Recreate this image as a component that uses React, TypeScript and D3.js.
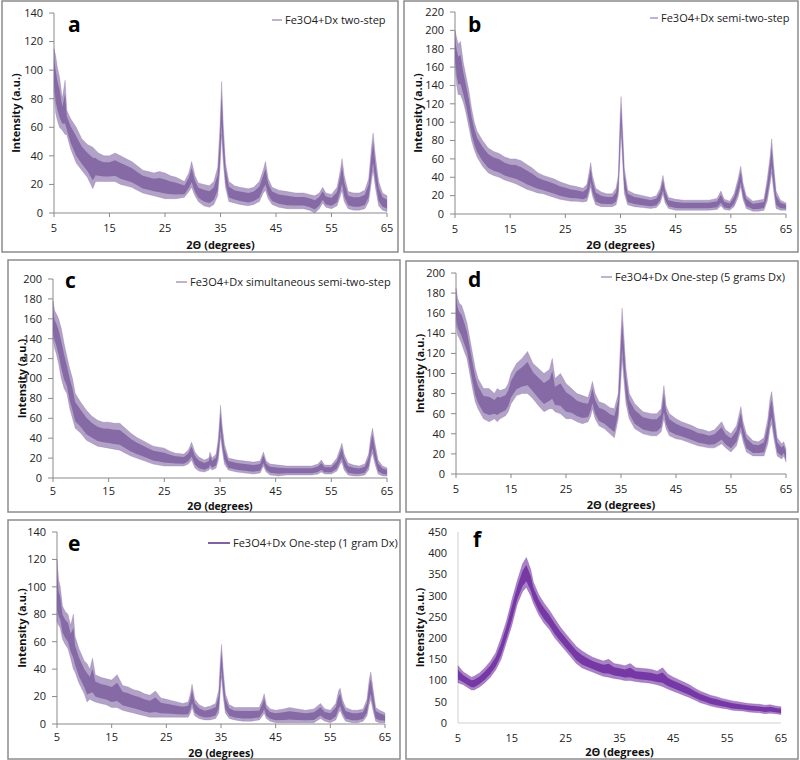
import React from "react";
import * as d3 from "d3";

type Pt = [number, number, number]; // [2θ, low, high]

const xTicks = [5, 15, 25, 35, 45, 55, 65];
const yTicksA = [0, 20, 40, 60, 80, 100, 120, 140];
const yTicksB = [0, 20, 40, 60, 80, 100, 120, 140, 160, 180, 200, 220];
const yTicksC = [0, 20, 40, 60, 80, 100, 120, 140, 160, 180, 200];
const yTicksD = [0, 20, 40, 60, 80, 100, 120, 140, 160, 180, 200];
const yTicksE = [0, 20, 40, 60, 80, 100, 120, 140];
const yTicksF = [0, 50, 100, 150, 200, 250, 300, 350, 400, 450];

const panelLetters = ["a", "b", "c", "d", "e", "f"];
const legendNames = [
  "Fe3O4+Dx two-step",
  "Fe3O4+Dx semi-two-step",
  "Fe3O4+Dx simultaneous semi-two-step",
  "Fe3O4+Dx One-step (5 grams Dx)",
  "Fe3O4+Dx One-step (1 gram Dx)",
  "",
];

const twoStep: Pt[] = [
  [5, 85, 115], [5.3, 70, 110], [5.6, 65, 102], [6, 60, 95], [6.5, 58, 80], [7, 55, 93], [7.3, 55, 72],
  [8, 45, 66], [9, 35, 60], [10, 30, 52], [11, 25, 48], [12, 17, 46], [12.5, 22, 44], [13, 22, 42],
  [14, 22, 40], [15, 22, 40], [16, 22, 42], [17, 20, 40], [18, 19, 38], [19, 18, 36], [20, 16, 33],
  [21, 14, 30], [22, 13, 29], [23, 12, 28], [24, 11, 29], [25, 10, 28], [26, 10, 26], [27, 10, 25],
  [28.5, 11, 22], [29.3, 15, 28], [29.8, 18, 36], [30.4, 12, 26], [31, 8, 21], [32, 5, 20],
  [33, 4, 19], [33.8, 6, 22], [34.5, 12, 32], [34.9, 30, 60], [35.2, 55, 92], [35.5, 35, 62],
  [35.9, 18, 35], [36.5, 8, 22], [37.5, 7, 19], [38.5, 6, 18], [40, 5, 17], [41, 6, 18], [42, 8, 22],
  [42.7, 14, 30], [43.1, 16, 36], [43.6, 10, 24], [44.3, 6, 18], [45.5, 4, 16], [47, 3, 15],
  [48.5, 3, 14], [50, 3, 14], [51, 2, 13], [52, 0, 12], [52.8, 3, 14], [53.4, 7, 18], [54, 4, 14],
  [55, 3, 13], [56, 5, 18], [56.6, 12, 30], [56.9, 16, 38], [57.3, 8, 26], [58, 3, 15], [59, 2, 14],
  [60, 2, 14], [61, 3, 16], [61.7, 8, 24], [62.2, 22, 46], [62.5, 30, 56], [62.9, 18, 40],
  [63.5, 5, 22], [64.2, 2, 14], [65, 1, 12],
];

const semiTwoStep: Pt[] = [
  [5, 165, 200], [5.3, 140, 192], [5.6, 130, 185], [6, 130, 188], [6.5, 122, 165], [7, 110, 150],
  [7.5, 95, 135], [8, 80, 115], [8.5, 70, 100], [9, 62, 90], [10, 52, 80], [11, 45, 72], [12, 42, 68],
  [13, 40, 66], [14, 37, 62], [15, 35, 60], [16, 33, 60], [17, 30, 58], [18, 27, 54], [19, 25, 50],
  [20, 23, 45], [21, 22, 42], [22, 20, 40], [23, 18, 38], [24, 16, 35], [25, 15, 33], [26, 14, 31],
  [27, 14, 30], [28.2, 13, 28], [28.9, 14, 32], [29.3, 22, 45], [29.6, 30, 56], [29.9, 20, 42],
  [30.5, 10, 28], [31.5, 8, 24], [32.5, 8, 22], [33.5, 8, 22], [34.2, 10, 28], [34.6, 20, 42],
  [34.9, 60, 100], [35.1, 90, 128], [35.4, 55, 90], [35.7, 22, 50], [36.3, 10, 26], [37.5, 8, 22],
  [39, 7, 20], [40.5, 6, 18], [41.5, 7, 20], [42.2, 12, 28], [42.7, 22, 42], [43.1, 12, 28],
  [43.7, 6, 18], [45, 4, 16], [46.5, 4, 15], [48, 4, 15], [49.5, 4, 15], [51, 4, 15], [52.5, 5, 17],
  [53.2, 9, 25], [53.8, 5, 16], [54.8, 4, 14], [55.6, 8, 22], [56.3, 18, 38], [56.8, 30, 52],
  [57.2, 16, 34], [57.8, 6, 20], [59, 3, 14], [60, 3, 15], [61, 4, 16], [61.6, 14, 38],
  [62.1, 32, 62], [62.4, 45, 82], [62.7, 28, 58], [63.2, 6, 25], [64, 4, 15], [65, 4, 12],
];

const simultaneous: Pt[] = [
  [5, 140, 178], [5.3, 130, 168], [5.6, 125, 165], [6, 115, 160], [6.5, 100, 150], [7, 90, 135],
  [7.5, 85, 122], [8, 70, 110], [8.5, 60, 100], [9, 50, 85], [10, 45, 76], [11, 38, 68], [12, 35, 62],
  [13, 32, 58], [14, 31, 56], [15, 30, 56], [16, 29, 55], [17, 28, 55], [18, 25, 50], [19, 22, 45],
  [20, 20, 41], [21, 18, 38], [22, 16, 35], [23, 14, 32], [24, 13, 31], [25, 12, 30], [26, 12, 27],
  [27, 12, 25], [28.5, 12, 24], [29.3, 14, 28], [29.9, 18, 36], [30.5, 10, 26], [31.2, 7, 21],
  [32.2, 6, 18], [33, 8, 20], [33.2, 10, 26], [33.6, 8, 20], [34.3, 10, 24], [34.7, 18, 40],
  [35.1, 42, 73], [35.4, 28, 52], [35.8, 14, 34], [36.5, 8, 20], [38, 6, 18], [39.5, 5, 17],
  [41, 4, 16], [42.2, 5, 17], [42.8, 12, 26], [43.3, 6, 17], [44, 3, 14], [45.5, 2, 13], [47, 3, 12],
  [48.5, 3, 12], [50, 3, 12], [51.5, 3, 12], [52.6, 4, 14], [53.2, 6, 18], [53.8, 4, 13], [55, 4, 13],
  [56, 7, 20], [56.6, 14, 30], [56.9, 16, 35], [57.3, 8, 24], [58, 3, 15], [59, 2, 13], [60, 2, 12],
  [61, 3, 14], [61.7, 8, 24], [62.1, 20, 42], [62.4, 25, 50], [62.8, 15, 36], [63.4, 4, 18],
  [64.2, 2, 12], [65, 2, 10],
];

const oneStep5g: Pt[] = [
  [5, 150, 185], [5.3, 138, 175], [5.6, 135, 170], [6, 130, 168], [6.5, 122, 160], [7, 115, 150],
  [7.5, 100, 135], [8, 85, 120], [8.5, 72, 105], [9, 65, 95], [10, 55, 85], [11, 52, 85], [12, 55, 80],
  [12.5, 52, 85], [13, 55, 83], [14, 58, 85], [14.5, 62, 90], [15, 70, 100], [16, 78, 110],
  [17, 80, 115], [18, 80, 122], [19, 75, 110], [20, 68, 105], [21, 62, 100], [22, 65, 104],
  [22.5, 65, 115], [23, 62, 95], [24, 60, 100], [25, 55, 90], [26, 55, 85], [27, 52, 80],
  [28, 50, 78], [29, 52, 76], [29.5, 58, 85], [29.8, 65, 92], [30.3, 55, 80], [31, 48, 72],
  [32, 45, 70], [33, 40, 66], [33.8, 36, 65], [34.5, 55, 80], [34.9, 85, 130], [35.2, 115, 165],
  [35.5, 95, 140], [35.9, 70, 105], [36.5, 55, 80], [37.5, 45, 70], [39, 40, 62], [40.5, 38, 60],
  [41.5, 38, 60], [42.3, 42, 65], [42.8, 55, 88], [43.2, 45, 68], [43.8, 38, 60], [45, 35, 55],
  [46, 34, 52], [47, 32, 50], [48, 30, 48], [49, 28, 45], [50, 27, 44], [51, 26, 42], [52, 26, 44],
  [53.3, 30, 52], [54, 26, 44], [55, 22, 40], [56, 28, 48], [56.5, 38, 60], [56.8, 42, 67],
  [57.2, 32, 52], [57.8, 22, 40], [59, 18, 33], [60, 18, 32], [61, 18, 36], [61.7, 30, 55],
  [62.1, 45, 75], [62.4, 50, 82], [62.8, 35, 62], [63.4, 18, 36], [64.2, 15, 30], [64.6, 18, 32],
  [65, 12, 25],
];

const oneStep1g: Pt[] = [
  [5, 75, 120], [5.3, 72, 105], [5.6, 70, 100], [6, 62, 86], [6.5, 58, 82], [7, 55, 80], [7.5, 48, 72],
  [8, 40, 80], [8.3, 38, 64], [9, 30, 55], [10, 22, 46], [10.5, 16, 44], [11, 18, 40], [11.5, 17, 48],
  [12, 16, 36], [13, 15, 34], [14, 14, 33], [15, 12, 32], [16, 12, 36], [17, 10, 28], [18, 9, 27],
  [19, 8, 25], [20, 7, 24], [21, 6, 22], [22, 5, 21], [23, 5, 24], [24, 5, 19], [25, 5, 18],
  [26, 5, 17], [27, 5, 16], [28, 5, 15], [29, 5, 16], [29.4, 8, 22], [29.7, 12, 29], [30.2, 6, 18],
  [31, 4, 14], [32, 3, 12], [33, 3, 13], [34, 4, 15], [34.6, 8, 25], [34.9, 25, 48], [35.1, 35, 58],
  [35.4, 20, 40], [35.8, 8, 22], [36.5, 4, 14], [37.5, 3, 12], [39, 2, 12], [40.5, 2, 12],
  [42, 3, 12], [42.6, 6, 18], [42.9, 8, 22], [43.3, 4, 14], [44, 2, 11], [45, 1, 10], [46.5, 1, 11],
  [47.5, 1, 12], [49, 1, 11], [50.5, 1, 10], [52, 1, 11], [53.2, 4, 15], [54, 2, 11], [55, 1, 10],
  [56, 3, 15], [56.5, 8, 24], [56.8, 10, 26], [57.2, 6, 18], [57.8, 2, 12], [59, 1, 10], [60, 1, 10],
  [61, 2, 11], [61.7, 6, 18], [62.1, 14, 32], [62.4, 18, 38], [62.8, 10, 26], [63.3, 2, 12],
  [64, 1, 10], [64.6, 1, 9], [65, 1, 8],
];

const dextranOnly: Pt[] = [
  [5, 95, 135], [6, 90, 120], [7, 82, 112], [7.5, 78, 108], [8, 78, 110], [9, 85, 118], [10, 95, 130],
  [11, 108, 145], [12, 125, 165], [13, 150, 200], [14, 190, 240], [15, 230, 290], [16, 280, 335],
  [17, 310, 375], [17.7, 320, 390], [18.5, 300, 362], [19, 282, 332], [20, 255, 302], [21, 235, 282],
  [22, 220, 265], [23, 200, 245], [24, 185, 226], [25, 170, 210], [26, 155, 195], [27, 140, 180],
  [28, 130, 170], [29, 125, 162], [30, 120, 155], [31, 115, 150], [32, 110, 146], [33, 108, 150],
  [34, 105, 140], [35, 103, 138], [36, 100, 135], [37, 100, 140], [38, 98, 130], [39, 96, 129],
  [40, 95, 128], [41, 93, 126], [42, 90, 122], [43, 86, 130], [44, 80, 115], [45, 75, 108],
  [46, 70, 102], [47, 65, 96], [48, 60, 90], [49, 54, 82], [50, 48, 75], [51, 44, 70], [52, 40, 65],
  [53, 37, 62], [54, 35, 58], [55, 33, 55], [56, 30, 52], [57, 29, 50], [58, 28, 48], [59, 26, 46],
  [60, 25, 45], [61, 24, 44], [62, 22, 42], [63, 23, 43], [64, 22, 40], [65, 20, 38],
];

const series = [twoStep, semiTwoStep, simultaneous, oneStep5g, oneStep1g, dextranOnly];
const yTickSets = [yTicksA, yTicksB, yTicksC, yTicksD, yTicksE, yTicksF];

// layout (pixels)
const layouts = [
  { bx: 2, by: 1, bw: 396, bh: 251, px0: 54, px1: 387, py0: 13, py1: 213, lx: 272, ly: 20, ll: 10, lw: 1, tx: 68, ty: 32, color: "#8064A2", axes: true },
  { bx: 404, by: 1, bw: 394, bh: 251, px0: 455, px1: 786, py0: 12, py1: 214, lx: 650, ly: 18, ll: 8, lw: 1, tx: 468, ty: 32, color: "#8064A2", axes: true },
  { bx: 8, by: 260, bw: 392, bh: 252, px0: 53, px1: 387, py0: 279, py1: 478, lx: 176, ly: 282, ll: 11, lw: 1, tx: 65, ty: 288, color: "#8064A2", axes: true },
  { bx: 406, by: 261, bw: 392, bh: 251, px0: 456, px1: 786, py0: 273, py1: 474, lx: 601, ly: 277, ll: 11, lw: 1, tx: 468, ty: 287, color: "#8064A2", axes: true },
  { bx: 8, by: 520, bw: 392, bh: 239, px0: 57, px1: 385, py0: 532, py1: 724, lx: 208, ly: 543, ll: 22, lw: 2, tx: 68, ty: 551, color: "#8064A2", axes: true },
  { bx: 406, by: 519, bw: 392, bh: 240, px0: 458, px1: 781, py0: 532, py1: 723, lx: 0, ly: 0, ll: 0, lw: 0, tx: 473, ty: 547, color: "#7030A0", axes: false },
];

const FONT = "'Open Sans', 'DejaVu Sans', sans-serif";

function Panel({ i }: { i: number }) {
  const L = layouts[i];
  const data = series[i];
  const yTicks = yTickSets[i];
  const yMax = yTicks[yTicks.length - 1];
  const x = d3.scaleLinear().domain([xTicks[0], xTicks[xTicks.length - 1]]).range([L.px0, L.px1]);
  const y = d3.scaleLinear().domain([0, yMax]).range([L.py1, L.py0]);
  const outer = d3
    .area<Pt>()
    .x((d) => x(d[0]))
    .y0((d) => y(Math.max(0, d[1])))
    .y1((d) => y(d[2]));
  // denser core of the noisy trace
  const core = d3
    .area<Pt>()
    .x((d) => x(d[0]))
    .y0((d) => y(Math.max(0, d[1]) + (d[2] - d[1]) * 0.2))
    .y1((d) => y(d[2] - (d[2] - d[1]) * 0.25));
  const axisColor = L.axes ? "#8a8a8a" : "#d0d0d0";
  const midY = (L.py0 + L.py1) / 2;
  const midX = (L.px0 + L.px1) / 2;
  const bottom = L.by + L.bh;
  const tight = bottom - L.py1 < 36;
  return (
    <g>
      <rect x={L.bx} y={L.by} width={L.bw} height={L.bh} fill="#fff" stroke="#8c8c8c" strokeWidth={1.5} />
      <line x1={L.px0} x2={L.px0} y1={L.py0} y2={L.py1} stroke={axisColor} strokeWidth={1} />
      <line x1={L.px0} x2={L.px1} y1={L.py1} y2={L.py1} stroke={axisColor} strokeWidth={1} />
      {yTicks.map((t) => (
        <g key={"y" + t}>
          {L.axes && <line x1={L.px0 - 5} x2={L.px0} y1={y(t)} y2={y(t)} stroke={axisColor} />}
          <text x={L.px0 - 11} y={y(t)} dy="0.35em" textAnchor="end" fontSize={11} fontFamily={FONT} fill="#222">
            {t}
          </text>
        </g>
      ))}
      {xTicks.map((t) => (
        <g key={"x" + t}>
          {L.axes && <line x1={x(t)} x2={x(t)} y1={L.py1} y2={L.py1 + 4} stroke={axisColor} />}
          <text x={x(t)} y={L.py1 + (tight ? 17 : 19)} textAnchor="middle" fontSize={11} fontFamily={FONT} fill="#222">
            {t}
          </text>
        </g>
      ))}
      <path d={outer(data) || ""} fill={L.color} fillOpacity={0.6} stroke={L.color} strokeOpacity={0.35} strokeWidth={0.8} />
      <path d={core(data) || ""} fill={L.color} fillOpacity={0.9} stroke="none" />
      <text
        transform={`translate(${L.bx + 14},${midY}) rotate(-90)`}
        textAnchor="middle"
        dy="0.35em"
        fontSize={11}
        fontWeight="bold"
        fontFamily={FONT}
        fill="#111"
      >
        Intensity (a.u.)
      </text>
      <text x={midX} y={bottom - (tight ? 2 : 3)} textAnchor="middle" fontSize={tight ? 10.5 : 11} fontWeight="bold" fontFamily={FONT} fill="#111">
        2Θ (degrees)
      </text>
      <text x={L.tx} y={L.ty} fontSize={21} fontWeight="bold" fontFamily={FONT} fill="#000">
        {panelLetters[i]}
      </text>
      {legendNames[i] && (
        <g>
          <line x1={L.lx} x2={L.lx + L.ll} y1={L.ly} y2={L.ly} stroke={L.color} strokeWidth={L.lw} />
          <text x={L.lx + L.ll + 3} y={L.ly} dy="0.35em" fontSize={11} fontFamily={FONT} fill="#222">
            {legendNames[i]}
          </text>
        </g>
      )}
    </g>
  );
}

export default function App() {
  return (
    <svg width={800} height={760} style={{ position: "absolute", left: 0, top: 0, background: "#fff" }}>
      <rect x={0} y={0} width={800} height={760} fill="#fff" />
      {series.map((_, i) => (
        <Panel key={i} i={i} />
      ))}
    </svg>
  );
}
